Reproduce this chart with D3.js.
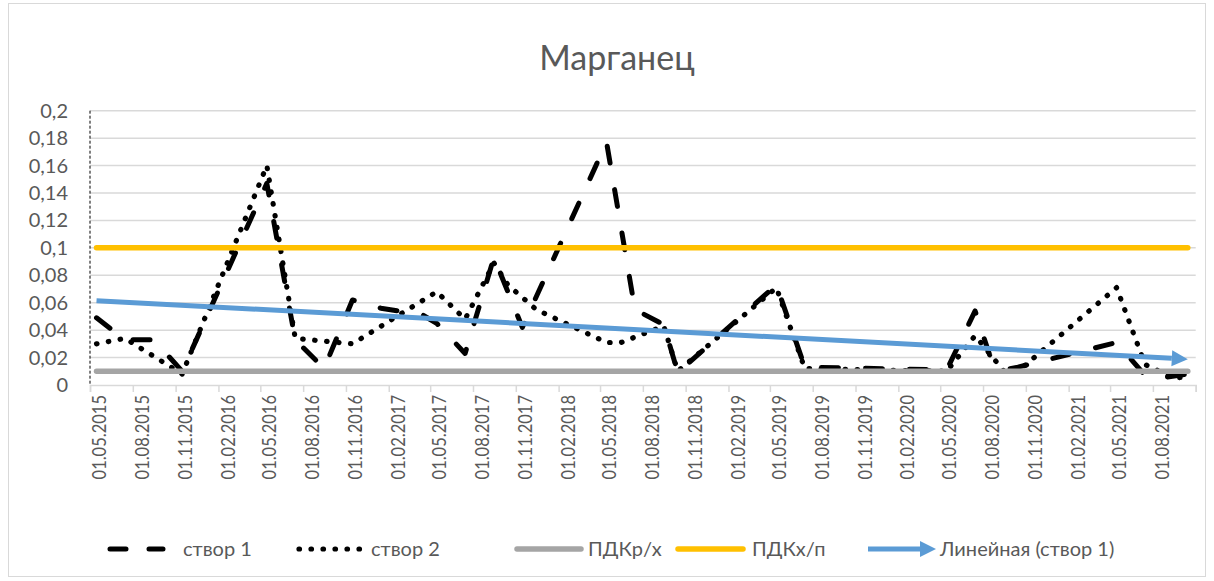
<!DOCTYPE html>
<html><head><meta charset="utf-8">
<script src="https://cdn.jsdelivr.net/npm/d3@7"></script>
<style>body{margin:0;background:#fff} svg text{font-family:Lato,"Open Sans",sans-serif;fill:#595959}</style>
</head><body><svg id="c" width="1214" height="581"></svg>
<script>
const title = "Марганец";
const dates1 = ["2015-05-15","2015-07-15","2015-09-15","2015-11-15","2016-05-15","2016-07-15","2016-09-15","2016-11-15","2017-01-15","2017-04-15","2017-05-15","2017-07-15","2017-09-15","2017-11-15","2018-05-15","2018-07-15","2018-09-15","2018-10-15","2019-05-15","2019-07-15","2020-05-15","2020-07-15","2020-08-15","2020-09-15","2020-10-15","2021-05-15","2021-07-15","2021-08-15","2021-10-15"];
const stvor1 = [0.049,0.033,0.033,0.010,0.147,0.033,0.012,0.062,0.056,0.051,0.045,0.023,0.093,0.042,0.177,0.055,0.044,0.009,0.073,0.013,0.011,0.054,0.022,0.011,0.013,0.031,0.007,0.005,0.008];
const dates2 = ["2015-05-15","2015-07-15","2015-11-15","2016-05-15","2016-07-15","2016-11-15","2017-05-15","2017-07-15","2017-09-15","2017-10-15","2017-12-15","2018-05-15","2018-06-15","2018-09-15","2018-10-15","2019-05-15","2019-07-15","2020-05-15","2020-07-15","2020-09-15","2020-10-15","2021-05-15","2021-07-15","2021-09-15","2021-10-15"];
const stvor2 = [0.030,0.034,0.008,0.160,0.034,0.030,0.068,0.048,0.089,0.073,0.055,0.031,0.031,0.043,0.010,0.071,0.012,0.010,0.036,0.010,0.010,0.071,0.015,0.005,0.006];
const limitDates = ["2015-05-15","2021-10-15"];
const pdkRH = [0.01,0.01];
const pdkHP = [0.1,0.1];
const trendDates = ["2015-05-15","2021-10-15"];
const trendValues = [0.0615,0.0188];
const tickDates = ["2015-05-01","2015-08-01","2015-11-01","2016-02-01","2016-05-01","2016-08-01","2016-11-01","2017-02-01","2017-05-01","2017-08-01","2017-11-01","2018-02-01","2018-05-01","2018-08-01","2018-11-01","2019-02-01","2019-05-01","2019-08-01","2019-11-01","2020-02-01","2020-05-01","2020-08-01","2020-11-01","2021-02-01","2021-05-01","2021-08-01","2021-11-01"];
const tickLabels = ["01.05.2015","01.08.2015","01.11.2015","01.02.2016","01.05.2016","01.08.2016","01.11.2016","01.02.2017","01.05.2017","01.08.2017","01.11.2017","01.02.2018","01.05.2018","01.08.2018","01.11.2018","01.02.2019","01.05.2019","01.08.2019","01.11.2019","01.02.2020","01.05.2020","01.08.2020","01.11.2020","01.02.2021","01.05.2021","01.08.2021",""];
const yTicks = [0,0.02,0.04,0.06,0.08,0.1,0.12,0.14,0.16,0.18,0.2];
const legendLabels = ["створ 1","створ 2","ПДКр/х","ПДКх/п","Линейная (створ 1)"];

const parse = d3.utcParse("%Y-%m-%d");
const svg = d3.select("#c");
svg.append("rect").attr("x",8.5).attr("y",3.5).attr("width",1197).attr("height",573).attr("fill","#fff").attr("stroke","#d9d9d9");

const x = d3.scaleUtc().domain([parse("2015-05-01"), parse("2021-11-01")]).range([90, 1195.7]);
const y = d3.scaleLinear().domain([0,0.2]).range([385,110.7]);

// title
svg.append("text").attr("x",617).attr("y",70).attr("text-anchor","middle").style("font-size","34px").text(title);

// gridlines
svg.append("g").selectAll("line").data(yTicks.slice(1)).join("line")
  .attr("x1",90).attr("x2",1195.7).attr("y1",d=>y(d)).attr("y2",d=>y(d))
  .attr("stroke","#d9d9d9").attr("stroke-width",1.5);

// y labels
const fmt = d => String(d).replace(".",",");
svg.append("g").selectAll("text").data(yTicks).join("text")
  .attr("x",68).attr("y",d=>y(d)).attr("dy","0.35em").attr("text-anchor","end")
  .style("font-size","20px").text(fmt);

// x axis
const xAxis = d3.axisBottom(x).tickValues(tickDates.map(parse)).tickSize(7).tickFormat("");
const gx = svg.append("g").attr("transform","translate(0,385)").call(xAxis);
gx.select(".domain").attr("stroke","#d9d9d9").attr("stroke-width",1.5);
gx.selectAll(".tick line").attr("stroke","#d9d9d9").attr("stroke-width",1.5);
svg.append("g").selectAll("text").data(tickDates.slice(0,26)).join("text")
  .attr("transform",(d,i)=>`translate(${x(parse(d))+9.5},395) rotate(-90) scale(0.87,1)`)
  .attr("text-anchor","end").attr("dy","0.35em").style("font-size","19px")
  .text((d,i)=>tickLabels[i]);

// y axis dashed line
svg.append("line").attr("x1",90).attr("x2",90).attr("y1",y(0.2)).attr("y2",385)
  .attr("stroke","#000").attr("stroke-width",1).attr("stroke-dasharray","3,2");

const line = d3.line().x(d=>x(d[0])).y(d=>y(d[1]));
const zip = (ds, vs) => ds.map((d,i)=>[parse(d), vs[i]]);

svg.append("path").datum(zip(dates1,stvor1)).attr("d",line).attr("fill","none")
  .attr("stroke","#000").attr("stroke-width",5).attr("stroke-linecap","round").attr("stroke-linejoin","round")
  .attr("stroke-dasharray","17,27");
svg.append("path").datum(zip(dates2,stvor2)).attr("d",line).attr("fill","none")
  .attr("stroke","#000").attr("stroke-width",5.2).attr("stroke-linecap","round").attr("stroke-linejoin","round")
  .attr("stroke-dasharray","0.5,11.5");
svg.append("path").datum(zip(limitDates,pdkRH)).attr("d",line).attr("fill","none")
  .attr("stroke","#a5a5a5").attr("stroke-width",5.5).attr("stroke-linecap","round");
svg.append("path").datum(zip(limitDates,pdkHP)).attr("d",line).attr("fill","none")
  .attr("stroke","#ffc000").attr("stroke-width",5.5).attr("stroke-linecap","round");

// trend with arrow
const tpts = zip(trendDates, trendValues);
const tx0 = x(tpts[0][0]), ty0 = y(tpts[0][1]), tx1 = x(tpts[1][0]), ty1 = y(tpts[1][1]);
const ang = Math.atan2(ty1-ty0, tx1-tx0), L = 16, W = 8;
const bx = tx1 - L*Math.cos(ang), by = ty1 - L*Math.sin(ang);
svg.append("line").attr("x1",tx0).attr("y1",ty0).attr("x2",bx).attr("y2",by)
  .attr("stroke","#5b9bd5").attr("stroke-width",5);
svg.append("path").attr("fill","#5b9bd5")
  .attr("d",`M${tx1},${ty1}L${bx - W*Math.sin(ang)},${by + W*Math.cos(ang)}L${bx + W*Math.sin(ang)},${by - W*Math.cos(ang)}Z`);

// legend
const ly = 549;
const lg = svg.append("g");
lg.append("line").attr("x1",110).attr("x2",163).attr("y1",ly).attr("y2",ly).attr("stroke","#000")
  .attr("stroke-width",5).attr("stroke-linecap","round").attr("stroke-dasharray","16,23");
lg.append("line").attr("x1",299).attr("x2",360).attr("y1",ly).attr("y2",ly).attr("stroke","#000")
  .attr("stroke-width",5.2).attr("stroke-linecap","round").attr("stroke-dasharray","0.5,11.5");
lg.append("line").attr("x1",517).attr("x2",581).attr("y1",ly).attr("y2",ly).attr("stroke","#a5a5a5")
  .attr("stroke-width",5.5).attr("stroke-linecap","round");
lg.append("line").attr("x1",678).attr("x2",743).attr("y1",ly).attr("y2",ly).attr("stroke","#ffc000")
  .attr("stroke-width",5.5).attr("stroke-linecap","round");
lg.append("line").attr("x1",868).attr("x2",922).attr("y1",ly).attr("y2",ly).attr("stroke","#5b9bd5")
  .attr("stroke-width",5);
lg.append("path").attr("fill","#5b9bd5").attr("d",`M936,${ly}L920,${ly-8}L920,${ly+8}Z`);
const lx = [183,371,588,752,940];
lg.selectAll("text").data(legendLabels).join("text").attr("x",(d,i)=>lx[i]).attr("y",ly).attr("dy","0.35em")
  .style("font-size","20px").text(d=>d);
</script></body></html>
